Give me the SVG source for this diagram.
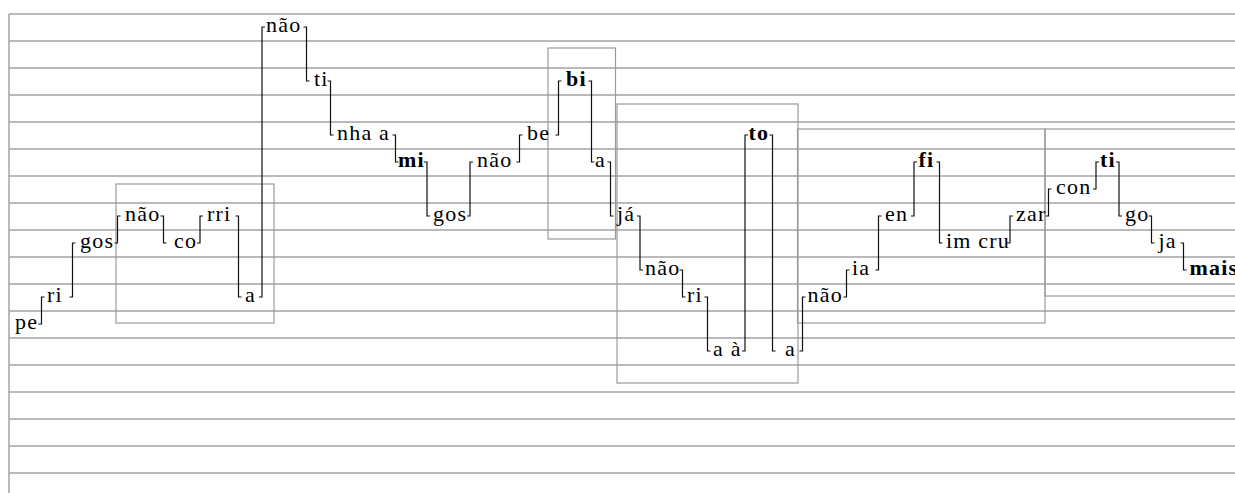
<svg xmlns="http://www.w3.org/2000/svg" width="1235" height="493" viewBox="0 0 1235 493">
<style>
.staff{stroke:#a3a3a3;stroke-width:1.5;fill:none}
.frame{stroke:#9a9a9a;stroke-width:1.2;fill:none}
.conn{stroke:#111;stroke-width:1.2;fill:none}
.syl{font-family:"Liberation Serif","Times New Roman",serif;font-size:22px;letter-spacing:1.2px;fill:#000}
.b{font-weight:bold}
</style>
<rect width="1235" height="493" fill="#fff"/>
<g id="staff">
<line class="staff" x1="9" y1="14" x2="9" y2="493"/>
<line class="staff" x1="9" y1="14" x2="1235" y2="14"/>
<line class="staff" x1="9" y1="41" x2="1235" y2="41"/>
<line class="staff" x1="9" y1="68" x2="1235" y2="68"/>
<line class="staff" x1="9" y1="95" x2="1235" y2="95"/>
<line class="staff" x1="9" y1="122" x2="1235" y2="122"/>
<line class="staff" x1="9" y1="149" x2="1235" y2="149"/>
<line class="staff" x1="9" y1="176" x2="1235" y2="176"/>
<line class="staff" x1="9" y1="203" x2="1235" y2="203"/>
<line class="staff" x1="9" y1="230" x2="1235" y2="230"/>
<line class="staff" x1="9" y1="257" x2="1235" y2="257"/>
<line class="staff" x1="9" y1="284" x2="1235" y2="284"/>
<line class="staff" x1="9" y1="311" x2="1235" y2="311"/>
<line class="staff" x1="9" y1="338" x2="1235" y2="338"/>
<line class="staff" x1="9" y1="365" x2="1235" y2="365"/>
<line class="staff" x1="9" y1="392" x2="1235" y2="392"/>
<line class="staff" x1="9" y1="419" x2="1235" y2="419"/>
<line class="staff" x1="9" y1="446" x2="1235" y2="446"/>
<line class="staff" x1="9" y1="473" x2="1235" y2="473"/>
</g>
<g id="frames">
<rect class="frame" x="116" y="184" width="158" height="139"/>
<rect class="frame" x="548" y="48" width="67.5" height="191"/>
<rect class="frame" x="617" y="104" width="181" height="279"/>
<rect class="frame" x="797.5" y="129" width="247.5" height="194"/>
<rect class="frame" x="1045" y="129" width="200" height="167"/>
</g>
<g id="connectors">
<path class="conn" d="M38.5 324H41.5V297H44.5"/>
<path class="conn" d="M69.5 297H72.5V243H75.5"/>
<path class="conn" d="M114.5 243H117.5V216H120.5"/>
<path class="conn" d="M160.5 216H163.5V243H166.5"/>
<path class="conn" d="M197 243H200V216H203"/>
<path class="conn" d="M235.5 216H238.5V297H241.5"/>
<path class="conn" d="M259 297H262V27H265"/>
<path class="conn" d="M303.5 27H306.5V81H309.5"/>
<path class="conn" d="M327.5 81H330.5V135H333.5"/>
<path class="conn" d="M392.5 135H395.5V162H398.5"/>
<path class="conn" d="M424 162H427V216H430"/>
<path class="conn" d="M467 216H470V162H473"/>
<path class="conn" d="M516.5 162H519.5V135H522.5"/>
<path class="conn" d="M555.5 135H558.5V81H561.5"/>
<path class="conn" d="M588.5 81H591.5V162H594.5"/>
<path class="conn" d="M607.5 162H610.5V216H613.5"/>
<path class="conn" d="M637 216H640V270H643"/>
<path class="conn" d="M679.5 270H682.5V297H685.5"/>
<path class="conn" d="M704.5 297H707.5V351H710.5"/>
<path class="conn" d="M742 351H745V135H748"/>
<path class="conn" d="M769.5 135H772.5V351H775.5"/>
<path class="conn" d="M799.5 351H802.5V297H805.5"/>
<path class="conn" d="M843.5 297H846.5V270H849.5"/>
<path class="conn" d="M875.5 270H878.5V216H881.5"/>
<path class="conn" d="M911 216H914V162H917"/>
<path class="conn" d="M936.5 162H939.5V243H942.5"/>
<path class="conn" d="M1007 243H1010V216H1013"/>
<path class="conn" d="M1045.5 216H1048.5V189H1051.5"/>
<path class="conn" d="M1093 189H1096V162H1099"/>
<path class="conn" d="M1116 162H1119V216H1122"/>
<path class="conn" d="M1148.5 216H1151.5V243H1154.5"/>
<path class="conn" d="M1180.5 243H1183.5V270H1186.5"/>
</g>
<g id="n1"><text class="syl" x="15" y="329">pe</text></g>
<g id="n2"><text class="syl" x="47" y="302">ri</text></g>
<g id="n3"><text class="syl" x="80" y="248">gos</text></g>
<g id="n4"><text class="syl" x="125" y="221">não</text></g>
<g id="n5"><text class="syl" x="174" y="248">co</text></g>
<g id="n6"><text class="syl" x="207" y="221">rri</text></g>
<g id="n7"><text class="syl" x="245" y="302">a</text></g>
<g id="n8"><text class="syl" x="266" y="32">não</text></g>
<g id="n9"><text class="syl" x="314" y="86">ti</text></g>
<g id="n10"><text class="syl" x="337" y="140">nha a</text></g>
<g id="n11"><text class="syl b" x="398" y="167">mi</text></g>
<g id="n12"><text class="syl" x="433" y="221">gos</text></g>
<g id="n13"><text class="syl" x="477" y="167">não</text></g>
<g id="n14"><text class="syl" x="527" y="140">be</text></g>
<g id="n15"><text class="syl b" x="566" y="86">bi</text></g>
<g id="n16"><text class="syl" x="595" y="167">a</text></g>
<g id="n17"><text class="syl" x="617" y="221">já</text></g>
<g id="n18"><text class="syl" x="645" y="275">não</text></g>
<g id="n19"><text class="syl" x="687" y="302">ri</text></g>
<g id="n20"><text class="syl" x="713" y="356">a à</text></g>
<g id="n21"><text class="syl b" x="748.5" y="140">to</text></g>
<g id="n22"><text class="syl" x="785" y="356">a</text></g>
<g id="n23"><text class="syl" x="807.5" y="302">não</text></g>
<g id="n24"><text class="syl" x="852" y="275">ia</text></g>
<g id="n25"><text class="syl" x="885" y="221">en</text></g>
<g id="n26"><text class="syl b" x="918.5" y="167">fi</text></g>
<g id="n27"><text class="syl" x="946" y="248">im cru</text></g>
<g id="n28"><text class="syl" x="1016" y="221">zar</text></g>
<g id="n29"><text class="syl" x="1056" y="194">con</text></g>
<g id="n30"><text class="syl b" x="1100" y="167">ti</text></g>
<g id="n31"><text class="syl" x="1125" y="221">go</text></g>
<g id="n32"><text class="syl" x="1158.5" y="248">ja</text></g>
<g id="n33"><text class="syl b" x="1189.5" y="275">mais</text></g>
</svg>
